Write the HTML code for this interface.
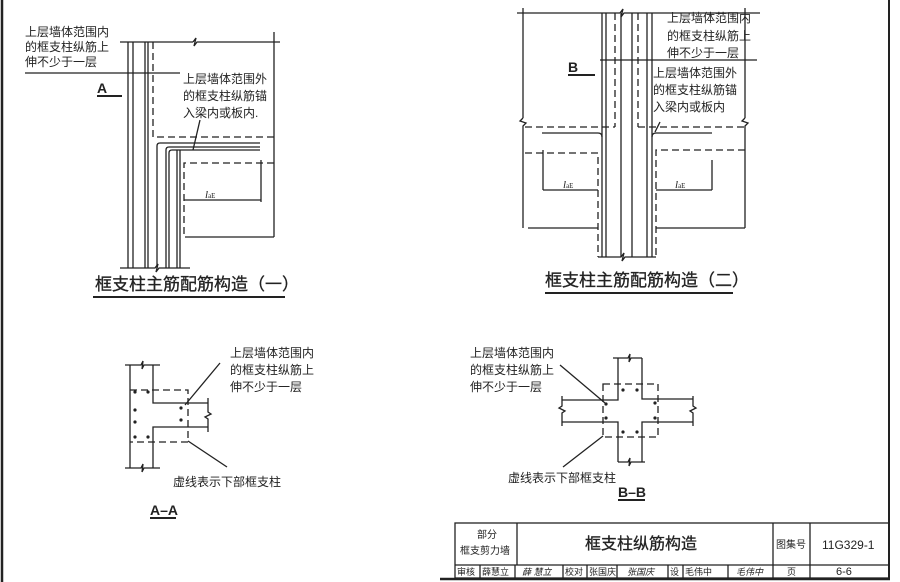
<!DOCTYPE html>
<html><head><meta charset="utf-8"><style>
html,body{margin:0;padding:0;background:#fff;}
svg{display:block;}
text{font-family:"Liberation Sans","Noto Sans CJK SC",sans-serif;fill:#222;}
</style></head><body>
<svg width="900" height="582" viewBox="0 0 900 582" xmlns="http://www.w3.org/2000/svg">
<g stroke="#222" stroke-width="1.3" fill="none">
<line x1="2" y1="0" x2="2" y2="582" stroke-width="2.5"/>
<line x1="889" y1="0" x2="889" y2="578" stroke-width="2"/>
<line x1="440" y1="579" x2="890" y2="579" stroke-width="2.5"/>

<line x1="128" y1="42" x2="128" y2="268"/>
<line x1="133" y1="42" x2="133" y2="268"/>
<line x1="145" y1="42" x2="145" y2="268"/>
<line x1="148" y1="42" x2="148" y2="268"/>
<line x1="120" y1="42" x2="193" y2="42"/>
<path d="M193 42 l3 -4 l-2 8 l3 -4 h83"/>
<line x1="274" y1="32" x2="274" y2="237"/>
<line x1="25" y1="73" x2="180" y2="73"/>
<path d="M153 42 V137 H274" stroke-dasharray="7,4"/>
<path d="M260 143 H160 Q157 143 157 146 V268"/>
<path d="M260 147 H169 Q166 147 166 150 V268"/>
<path d="M260 150 H172 Q169 150 169 153 V268"/>
<line x1="177" y1="150" x2="177" y2="268"/>
<line x1="180" y1="150" x2="180" y2="268"/>
<path d="M274 163 H184 V237" stroke-dasharray="7,4"/>
<line x1="185" y1="237" x2="274" y2="237"/>
<line x1="184" y1="200" x2="261" y2="200"/>
<line x1="261" y1="160" x2="261" y2="202"/>
<path d="M120 268 H155 l3 -4 l-2 8 l3 -4 H190"/>
<line x1="200" y1="120" x2="193" y2="150"/>
<line x1="97" y1="96" x2="122" y2="96" stroke-width="2"/>
<line x1="93" y1="297" x2="285" y2="297" stroke-width="2"/>

<line x1="517" y1="13" x2="620" y2="13"/>
<path d="M620 13 l3 -4 l-2 8 l3 -4 H760"/>
<line x1="523" y1="8" x2="523" y2="118"/>
<path d="M523 118 l-3 3 l6 2 l-3 3 V228"/>
<line x1="745" y1="8" x2="745" y2="118"/>
<path d="M745 118 l-3 3 l6 2 l-3 3 V228"/>
<line x1="600" y1="60" x2="757" y2="60"/>
<line x1="602" y1="13" x2="602" y2="257"/>
<line x1="606" y1="13" x2="606" y2="257"/>
<line x1="615" y1="13" x2="615" y2="127" stroke-dasharray="7,4"/>
<line x1="621" y1="13" x2="621" y2="257"/>
<line x1="632" y1="13" x2="632" y2="257"/>
<line x1="638" y1="13" x2="638" y2="127" stroke-dasharray="7,4"/>
<line x1="647" y1="13" x2="647" y2="257"/>
<line x1="652" y1="13" x2="652" y2="257"/>
<path d="M525 127 H615" stroke-dasharray="7,4"/>
<path d="M638 127 H745" stroke-dasharray="7,4"/>
<path d="M542 133 H598 Q602 133 602 137"/>
<path d="M712 133 H656 Q652 133 652 137"/>
<path d="M525 153 H598 V257" stroke-dasharray="7,4"/>
<path d="M745 150 H656 V257" stroke-dasharray="7,4"/>
<line x1="528" y1="228" x2="598" y2="228"/>
<line x1="656" y1="228" x2="745" y2="228"/>
<line x1="543" y1="150" x2="543" y2="190"/>
<line x1="543" y1="190" x2="598" y2="190"/>
<line x1="712" y1="160" x2="712" y2="190"/>
<line x1="656" y1="190" x2="712" y2="190"/>
<path d="M598 257 H621 l3 -4 l-2 8 l3 -4 H656"/>
<line x1="660" y1="122" x2="655" y2="132"/>
<line x1="568" y1="75" x2="595" y2="75" stroke-width="2"/>
<line x1="545" y1="293" x2="733" y2="293" stroke-width="2"/>

<path d="M125 365 H141 l2 -4 l-1 8 l2 -4 H160"/>
<path d="M125 468 H141 l2 -4 l-1 8 l2 -4 H160"/>
<line x1="130" y1="365" x2="130" y2="468"/>
<path d="M153 365 V403 H208"/>
<path d="M153 468 V427 H208"/>
<path d="M208 398 V412 l3 2 l-6 3 l3 2 V432"/>
<path d="M130 390 H188 V442 H130" stroke-dasharray="7,4"/>
<line x1="220" y1="363" x2="185" y2="405"/>
<line x1="188" y1="441" x2="227" y2="467"/>
<line x1="150" y1="518" x2="176" y2="518" stroke-width="2"/>

<path d="M613 358 H628 l2 -4 l-1 8 l2 -4 H642"/>
<path d="M618 462 H628 l2 -4 l-1 8 l2 -4 H645"/>
<path d="M618 358 V400 H562"/>
<path d="M642 358 V399 H693"/>
<path d="M618 462 V422 H562"/>
<path d="M642 462 V422 H693"/>
<path d="M562 396 V406 l-3 2 l6 3 l-3 2 V426"/>
<path d="M693 396 V406 l3 2 l-6 3 l3 2 V426"/>
<rect x="603" y="384" width="55" height="53" stroke-dasharray="7,4"/>
<line x1="560" y1="365" x2="605" y2="403"/>
<line x1="563" y1="467" x2="603" y2="436"/>
<line x1="618" y1="500" x2="645" y2="500" stroke-width="2"/>

<rect x="455" y="523" width="434" height="55"/>
<line x1="455" y1="565" x2="889" y2="565"/>
<line x1="517" y1="523" x2="517" y2="565"/>
<line x1="773" y1="523" x2="773" y2="578"/>
<line x1="810" y1="523" x2="810" y2="578"/>
<line x1="480" y1="565" x2="480" y2="578"/>
<line x1="515" y1="565" x2="515" y2="578"/>
<line x1="563" y1="565" x2="563" y2="578"/>
<line x1="587" y1="565" x2="587" y2="578"/>
<line x1="617" y1="565" x2="617" y2="578"/>
<line x1="668" y1="565" x2="668" y2="578"/>
<line x1="683" y1="565" x2="683" y2="578"/>
<line x1="728" y1="565" x2="728" y2="578"/>
</g>
<g fill="#222">
<circle cx="135" cy="392" r="1.6"/><circle cx="148" cy="392" r="1.6"/><circle cx="135" cy="410" r="1.6"/><circle cx="135" cy="422" r="1.6"/><circle cx="135" cy="437" r="1.6"/><circle cx="148" cy="437" r="1.6"/><circle cx="181" cy="408" r="1.6"/><circle cx="181" cy="420" r="1.6"/>
<circle cx="623" cy="390" r="1.6"/><circle cx="637" cy="390" r="1.6"/><circle cx="606" cy="404" r="1.6"/><circle cx="606" cy="418" r="1.6"/><circle cx="655" cy="403" r="1.6"/><circle cx="655" cy="418" r="1.6"/><circle cx="623" cy="432" r="1.6"/><circle cx="637" cy="432" r="1.6"/>
</g>
<g font-size="12">
<text x="25" y="36">上层墙体范围内</text>
<text x="25" y="51">的框支柱纵筋上</text>
<text x="25" y="66">伸不少于一层</text>
<text x="183" y="83">上层墙体范围外</text>
<text x="183" y="100">的框支柱纵筋锚</text>
<text x="183" y="117">入梁内或板内.</text>
<text x="667" y="22">上层墙体范围内</text>
<text x="667" y="40">的框支柱纵筋上</text>
<text x="667" y="57">伸不少于一层</text>
<text x="653" y="77">上层墙体范围外</text>
<text x="653" y="94">的框支柱纵筋锚</text>
<text x="653" y="111">入梁内或板内</text>
<text x="230" y="357">上层墙体范围内</text>
<text x="230" y="374">的框支柱纵筋上</text>
<text x="230" y="391">伸不少于一层</text>
<text x="173" y="486">虚线表示下部框支柱</text>
<text x="470" y="357">上层墙体范围内</text>
<text x="470" y="374">的框支柱纵筋上</text>
<text x="470" y="391">伸不少于一层</text>
<text x="508" y="482">虚线表示下部框支柱</text>
</g>
<g font-size="14" font-weight="bold">
<text x="97" y="93">A</text>
<text x="568" y="72">B</text>
<text x="150" y="515">A–A</text>
<text x="618" y="497">B–B</text>
</g>
<g font-size="11" font-style="italic">
<text x="205" y="198" style="font-family:'Liberation Serif',serif">l<tspan font-size="7" font-style="normal">aE</tspan></text>
<text x="563" y="188" style="font-family:'Liberation Serif',serif">l<tspan font-size="7" font-style="normal">aE</tspan></text>
<text x="675" y="188" style="font-family:'Liberation Serif',serif">l<tspan font-size="7" font-style="normal">aE</tspan></text>
</g>
<text x="95" y="290" font-size="17" stroke="#222" stroke-width="0.3">框支柱主筋配筋构造（一）</text>
<text x="545" y="286" font-size="17" stroke="#222" stroke-width="0.3">框支柱主筋配筋构造（二）</text>
<g font-size="10">
<text x="477" y="538">部分</text>
<text x="460" y="554">框支剪力墙</text>
<text x="776" y="548">图集号</text>
<text x="822" y="549" font-family="Liberation Serif" font-size="12">11G329-1</text>
</g>
<g font-size="9">
<text x="457" y="575">审核</text>
<text x="482" y="575">薛慧立</text>
<text x="522" y="575" font-style="italic">薛 慧立</text>
<text x="565" y="575">校对</text>
<text x="589" y="575">张国庆</text>
<text x="627" y="575" font-style="italic">张国庆</text>
<text x="670" y="575">设</text>
<text x="685" y="575">毛伟中</text>
<text x="736" y="575" font-style="italic">毛伟中</text>
<text x="787" y="575">页</text>
<text x="836" y="575" font-family="Liberation Serif" font-size="11">6-6</text>
</g>
<text x="585" y="549" font-size="16" stroke="#222" stroke-width="0.3">框支柱纵筋构造</text>
</svg>
</body></html>
